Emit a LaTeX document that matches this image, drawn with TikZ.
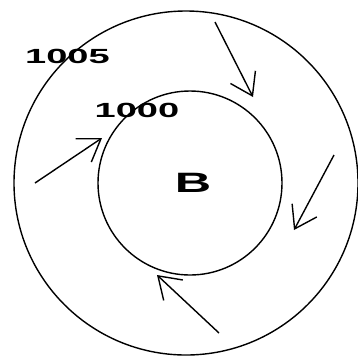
\documentclass[tikz,border=0pt]{standalone}
\usepackage{fontspec}
\setmainfont{Liberation Sans}
\usetikzlibrary{arrows.meta}
\begin{document}
\begin{tikzpicture}[x=1pt,y=-1pt,
  ring/.style={draw,circle,line width=1.4pt,inner sep=0pt},
  flow/.style={line width=1.4pt,-{Straight Barb[length=21pt,width=28pt,line width=1.4pt]}},
  lbl/.style={inner sep=0pt,font=\bfseries}]
\useasboundingbox (0,0) rectangle (358,357);
\node[ring,minimum size=344pt] (outer) at (186,183) {};
\node[ring,minimum size=184pt] (inner) at (190,183) {};
\node[lbl] (t1005) at (67.5,56) {\scalebox{1.95}[1.05]{\fontsize{19.5}{20}\selectfont 1005}};
\node[lbl] (t1000) at (137,110.5) {\scalebox{1.95}[1.05]{\fontsize{19.5}{20}\selectfont 1000}};
\node[lbl] (tB) at (193,183) {\scalebox{1.8}[1]{\fontsize{28}{30}\selectfont B}};
\coordinate (a1s) at (215,22);  \coordinate (a1e) at (253,97);
\coordinate (a2s) at (334,155); \coordinate (a2e) at (294,230);
\coordinate (a3s) at (219,333); \coordinate (a3e) at (157,275);
\coordinate (a4s) at (35,183);  \coordinate (a4e) at (102,138);
\draw[flow] (a1s) -- (a1e);
\draw[flow] (a2s) -- (a2e);
\draw[flow] (a3s) -- (a3e);
\draw[flow] (a4s) -- (a4e);
\end{tikzpicture}
\end{document}
